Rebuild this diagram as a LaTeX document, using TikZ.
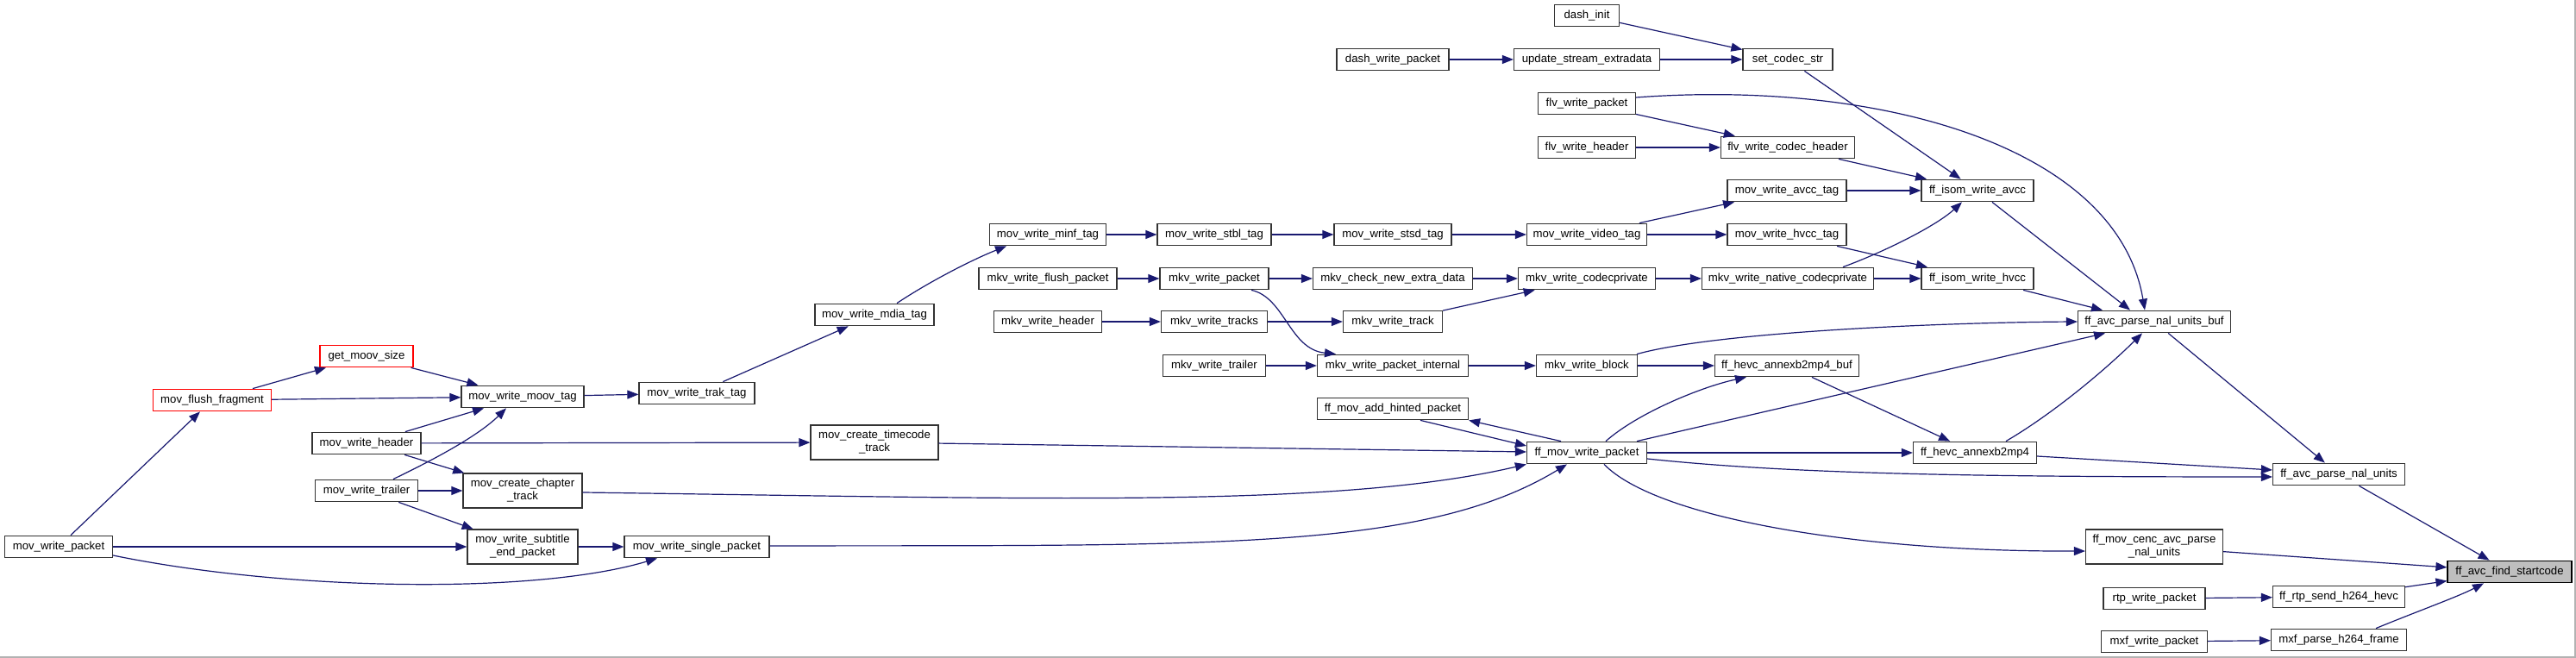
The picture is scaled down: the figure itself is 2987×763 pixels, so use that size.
\documentclass[tikz,border=0pt]{standalone}
\usepackage{fontspec}
\setmainfont{Liberation Sans}
\usetikzlibrary{arrows.meta,calc}
\definecolor{edgeblue}{HTML}{191970}
\definecolor{rootgrey}{HTML}{BFBFBF}
\begin{document}
\begin{tikzpicture}[x=0.5pt,y=-0.5pt,
  nd/.style={draw=black!80, line width=0.6pt, fill=white, inner sep=0pt, minimum height=12.8pt,
             font=\fontsize{6.6pt}{7.5pt}\selectfont, align=center},
  bw/.style={minimum width=#1*0.5pt},
  tall/.style={minimum height=20pt},
  redbox/.style={draw=red},
  rootbox/.style={fill=rootgrey, draw=black},
  edge/.style={draw=edgeblue, line width=0.6pt, -{Triangle[length=6.5pt,width=5pt]}},
  frameline/.style={draw=black!30, line width=0.7pt}
]
\useasboundingbox (0,0) rectangle (2987,763);
\fill[white] (0,0) rectangle (2987,763);
\coordinate (frameTR) at (2986,0);
\coordinate (frameBR) at (2986,762);
\coordinate (frameBL) at (0,762);
\draw[frameline] (frameBL) -- (frameBR) -- (frameTR);

% ---------- nodes ----------
\node[nd,bw=75]  (dashinit) at (1840,18) {dash\_init};
\node[nd,bw=130] (dashwp) at (1615,69) {dash\_write\_packet};
\node[nd,bw=169] (usext) at (1840,69) {update\_stream\_extradata};
\node[nd,bw=104] (setcodec) at (2073,69) {set\_codec\_str};
\node[nd,bw=113] (flvwp) at (1840,120) {flv\_write\_packet};
\node[nd,bw=113] (flvwh) at (1840,171) {flv\_write\_header};
\node[nd,bw=155] (flvcodec) at (2073,171) {flv\_write\_codec\_header};
\node[nd,bw=138] (avcctag) at (2072,221) {mov\_write\_avcc\_tag};
\node[nd,bw=130] (isomavcc) at (2293,221) {ff\_isom\_write\_avcc};
\node[nd,bw=135] (minf) at (1215,272) {mov\_write\_minf\_tag};
\node[nd,bw=132] (stbl) at (1408,272) {mov\_write\_stbl\_tag};
\node[nd,bw=136] (stsd) at (1615,272) {mov\_write\_stsd\_tag};
\node[nd,bw=139] (video) at (1840,272) {mov\_write\_video\_tag};
\node[nd,bw=138] (hvcctag) at (2072,272) {mov\_write\_hvcc\_tag};
\node[nd,bw=160] (mkvflush) at (1215,323) {mkv\_write\_flush\_packet};
\node[nd,bw=126] (mkvpacket) at (1408,323) {mkv\_write\_packet};
\node[nd,bw=185] (mkvcheck) at (1615,323) {mkv\_check\_new\_extra\_data};
\node[nd,bw=159] (mkvcodecpriv) at (1840,323) {mkv\_write\_codecprivate};
\node[nd,bw=199] (mkvnative) at (2073,323) {mkv\_write\_native\_codecprivate};
\node[nd,bw=130] (isomhvcc) at (2293,323) {ff\_isom\_write\_hvcc};
\node[nd,bw=138] (mdia) at (1014,365) {mov\_write\_mdia\_tag};
\node[nd,bw=125] (mkvheader) at (1215,373) {mkv\_write\_header};
\node[nd,bw=123] (mkvtracks) at (1408,373) {mkv\_write\_tracks};
\node[nd,bw=115] (mkvtrack) at (1615,373) {mkv\_write\_track};
\node[nd,bw=177] (nalbuf) at (2498,373) {ff\_avc\_parse\_nal\_units\_buf};
\node[nd,redbox,bw=108] (getmoov) at (425,413) {get\_moov\_size};
\node[nd,redbox,bw=137] (flush) at (246,464) {mov\_flush\_fragment};
\node[nd,bw=142] (moov) at (606,460) {mov\_write\_moov\_tag};
\node[nd,bw=134] (trak) at (808,456) {mov\_write\_trak\_tag};
\node[nd,bw=119] (mkvtrailer) at (1408,424) {mkv\_write\_trailer};
\node[nd,bw=175] (mkvinternal) at (1615,424) {mkv\_write\_packet\_internal};
\node[nd,bw=117] (mkvblock) at (1840,424) {mkv\_write\_block};
\node[nd,bw=167] (hevcbuf) at (2072,424) {ff\_hevc\_annexb2mp4\_buf};
\node[nd,bw=175] (hinted) at (1615,474) {ff\_mov\_add\_hinted\_packet};
\node[nd,bw=126] (movheader) at (425,514) {mov\_write\_header};
\node[nd,tall,bw=148] (timecode) at (1014,513) {mov\_create\_timecode\\\_track};
\node[nd,bw=139] (ffmovwp) at (1840,525) {ff\_mov\_write\_packet};
\node[nd,bw=143] (hevc) at (2290,525) {ff\_hevc\_annexb2mp4};
\node[nd,bw=153] (nal) at (2712,550) {ff\_avc\_parse\_nal\_units};
\node[nd,bw=119] (movtrailer) at (425,569) {mov\_write\_trailer};
\node[nd,tall,bw=138] (chapter) at (606,569) {mov\_create\_chapter\\\_track};
\node[nd,bw=125] (movwp) at (68,634) {mov\_write\_packet};
\node[nd,tall,bw=128] (subtitle) at (606,634) {mov\_write\_subtitle\\\_end\_packet};
\node[nd,bw=168] (single) at (808,634) {mov\_write\_single\_packet};
\node[nd,tall,bw=159] (cenc) at (2498,634) {ff\_mov\_cenc\_avc\_parse\\\_nal\_units};
\node[nd,rootbox,bw=144] (startcode) at (2910,663) {ff\_avc\_find\_startcode};
\node[nd,bw=118] (rtpwp) at (2498,694) {rtp\_write\_packet};
\node[nd,bw=153] (rtpsend) at (2712,692) {ff\_rtp\_send\_h264\_hevc};
\node[nd,bw=123] (mxfwp) at (2498,744) {mxf\_write\_packet};
\node[nd,bw=157] (mxfparse) at (2712,742) {mxf\_parse\_h264\_frame};

% ---------- edges ----------
\draw[edge] (dashinit) -- (setcodec);
\draw[edge] (dashwp) -- (usext);
\draw[edge] (usext) -- (setcodec);
\draw[edge] (setcodec) -- (isomavcc);
\draw[edge] ($(flvwp.east)+(0,-7)$) .. controls (2180,92) and (2455,170) .. ($(nalbuf.north)+(-11,0)$);
\draw[edge] (flvwp) -- (flvcodec);
\draw[edge] (flvwh) -- (flvcodec);
\draw[edge] (flvcodec) -- (isomavcc);
\draw[edge] (avcctag) -- (isomavcc);
\draw[edge] (video) -- (avcctag);
\draw[edge] (video) -- (hvcctag);
\draw[edge] (hvcctag) -- (isomhvcc);
\draw[edge] ($(mkvnative.north)+(64,0)$) .. controls (2185,292) and (2245,262) .. ($(isomavcc.south)+(-18,0)$);
\draw[edge] (mkvnative) -- (isomhvcc);
\draw[edge] ($(isomavcc.south)+(17,0)$) -- ($(nalbuf.north)+(-28,0)$);
\draw[edge] (isomhvcc) -- ($(nalbuf.north)+(-60,0)$);
\draw[edge] (minf) -- (stbl);
\draw[edge] (stbl) -- (stsd);
\draw[edge] (stsd) -- (video);
\draw[edge] (mkvflush) -- (mkvpacket);
\draw[edge] (mkvpacket) -- (mkvcheck);
\draw[edge] (mkvcheck) -- (mkvcodecpriv);
\draw[edge] (mkvcodecpriv) -- (mkvnative);
\draw[edge] ($(mkvpacket.south)+(43,0)$) .. controls (1490,345) and (1495,405) .. ($(mkvinternal.north)+(-66,0)$);
\draw[edge] (mkvheader) -- (mkvtracks);
\draw[edge] (mkvtracks) -- (mkvtrack);
\draw[edge] (mkvtrack) -- (mkvcodecpriv);
\draw[edge] (mkvtrailer) -- (mkvinternal);
\draw[edge] (mkvinternal) -- (mkvblock);
\draw[edge] ($(mkvblock.north)+(58,0)$) .. controls (1990,385) and (2250,374) .. (nalbuf.west);
\draw[edge] (mkvblock) -- (hevcbuf);
\draw[edge] ($(ffmovwp.north)+(22,0)$) .. controls (1900,478) and (1975,448) .. ($(hevcbuf.south)+(-47,0)$);
\draw[edge] (hevcbuf) -- (hevc);
\draw[edge] ($(ffmovwp.north)+(58,0)$) -- ($(nalbuf.south)+(-57,0)$);
\draw[edge] ($(hevc.north)+(36,0)$) .. controls (2380,480) and (2440,430) .. ($(nalbuf.south)+(-14,0)$);
\draw[edge] (ffmovwp) -- (hevc);
\draw[edge] ($(ffmovwp.east)+(0,7)$) .. controls (2080,550) and (2300,553) .. ($(nal.west)+(0,3)$);
\draw[edge] ($(hevc.east)+(0,4)$) -- ($(nal.west)+(0,-5)$);
\draw[edge] ($(ffmovwp.south)+(20,0)$) .. controls (1920,600) and (2150,640) .. ($(cenc.west)+(0,5)$);
\draw[edge] (nalbuf) -- (nal);
\draw[edge] (nal) -- (startcode);
\draw[edge] (cenc) -- (startcode);
\draw[edge] (rtpsend) -- (startcode);
\draw[edge] ($(mxfparse.north)+(43,0)$) .. controls (2800,710) and (2850,692) .. ($(startcode.south)+(-30,0)$);
\draw[edge] (rtpwp) -- (rtpsend);
\draw[edge] (mxfwp) -- (mxfparse);
% left part
\draw[edge] (moov) -- (trak);
\draw[edge] (trak) -- (mdia);
\draw[edge] ($(mdia.north)+(26,0)$) .. controls (1080,325) and (1130,300) .. ($(minf.south)+(-48,0)$);
\draw[edge] (getmoov) -- (moov);
\draw[edge] (flush) -- (getmoov);
\draw[edge] (flush) -- (moov);
\draw[edge] (movheader) -- (moov);
\draw[edge] ($(movtrailer.north)+(31,0)$) .. controls (505,532) and (555,505) .. ($(moov.south)+(-19,0)$);
\draw[edge] (movheader) -- (timecode);
\draw[edge] (movheader) -- (chapter);
\draw[edge] (movtrailer) -- (chapter);
\draw[edge] (movtrailer) -- (subtitle);
\draw[edge] (movwp) -- (flush);
\draw[edge] (movwp) -- (subtitle);
\draw[edge] ($(movwp.east)+(0,10)$) .. controls (330,685) and (620,690) .. ($(single.south)+(-46,0)$);
\draw[edge] (subtitle) -- (single);
\draw[edge] (timecode) -- (ffmovwp);
\draw[edge] ($(chapter.east)+(0,2)$) .. controls (1200,578) and (1550,590) .. (ffmovwp.south west);
\draw[edge] ($(single.east)+(0,-1)$) .. controls (1400,632) and (1650,640) .. ($(ffmovwp.south)+(-23,0)$);
\draw[edge] ($(hinted.south)+(32,0)$) -- ($(ffmovwp.west)+(0,-8)$);
\draw[edge] ($(ffmovwp.north)+(-30,0)$) -- (hinted.south east);
\end{tikzpicture}
\end{document}
